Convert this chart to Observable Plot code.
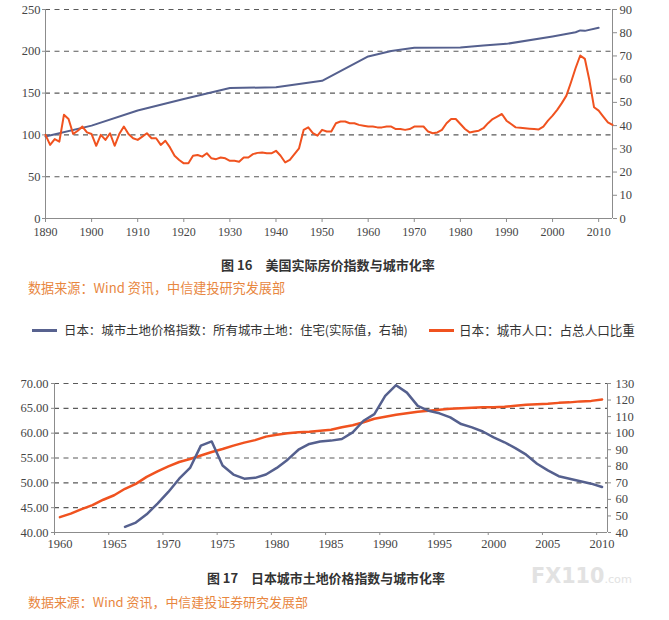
<!DOCTYPE html>
<html><head><meta charset="utf-8">
<script src="https://cdn.jsdelivr.net/npm/d3@7"></script>
<script src="https://cdn.jsdelivr.net/npm/@observablehq/plot@0.6"></script>
<style>
body{margin:0;background:#fff;}
#wrap{position:relative;width:669px;height:620px;overflow:hidden;font-family:"Noto Sans CJK SC","Noto Sans",sans-serif;}
.abs{position:absolute;white-space:nowrap;}
.cap{font-size:12px;font-weight:bold;color:#333;line-height:1.2;}
.src{font-size:12px;color:#E8873F;line-height:1.2;}
.leg{font-size:12px;color:#333;line-height:1.2;}
.mk{position:absolute;height:3px;width:25px;}
.wm{font-family:"DejaVu Sans",sans-serif;font-weight:bold;color:#e2e2e2;font-size:24px;line-height:1;}
</style></head><body>
<div id="wrap">
  <div id="c1" class="abs" style="left:0;top:0"></div>
  <div id="cap1" class="abs cap">图 16　美国实际房价指数与城市化率</div>
  <div id="src1" class="abs src">数据来源：Wind 资讯，中信建投研究发展部</div>
  <div class="mk" style="left:32px;top:329px;background:#58628F"></div>
  <div id="leg1" class="abs leg">日本：城市土地价格指数：所有城市土地：住宅(实际值，右轴)</div>
  <div class="mk" style="left:429px;top:329px;background:#F0521F"></div>
  <div id="leg2" class="abs leg">日本：城市人口：占总人口比重</div>
  <div id="c2" class="abs" style="left:0;top:360px"></div>
  <div id="wm" class="abs wm">FX110<span style="font-size:13px;font-weight:normal">.com</span></div>
  <div id="cap2" class="abs cap">图 17　日本城市土地价格指数与城市化率</div>
  <div id="src2" class="abs src">数据来源：Wind 资讯，中信建投证券研究发展部</div>
</div>
<script>
// ---------- Chart 1: US real house price index (left) & urbanization rate (right) ----------
const usPriceStart = 1890;
const usPriceIndex = [
  100, 88, 95, 92, 124, 119, 101, 105, 110, 103,
  101, 87, 100, 94, 102, 87, 101, 110, 101, 96,
  94, 98, 102, 96, 96, 88, 93, 85, 75, 70,
  66, 66, 75, 76, 74, 78, 72, 71, 73, 72,
  69, 69, 68, 73, 73, 77, 78.5, 79, 78, 78,
  81, 75, 67, 70, 77, 84, 106, 109, 102, 99,
  106, 104, 104, 114, 116, 116, 114, 114, 112, 111,
  110, 110, 109, 109, 110, 110, 107, 107, 106, 107,
  110, 110, 110, 104, 102, 103, 106, 114, 119, 119,
  113, 107, 103, 104, 105, 108, 114, 119, 122, 125,
  117, 113, 109, 108.5, 108, 107.5, 107, 106.5, 110, 117,
  123, 130, 138, 147, 163, 180, 195, 191, 165, 133,
  129, 122, 115, 112
];
const usUrbanYears = [1890, 1900, 1910, 1920, 1930, 1940, 1950, 1960, 1965, 1970, 1980, 1985, 1990, 2000, 2005, 2006, 2007, 2010];
const usUrbanRate  = [35.3, 40.0, 46.5, 51.5, 56.2, 56.5, 59.3, 69.8, 72.1, 73.5, 73.6, 74.5, 75.2, 78.4, 80.2, 81.0, 80.8, 82.1];
const chart1LeftTicks  = [0, 50, 100, 150, 200, 250];
const chart1RightTicks = [0, 10, 20, 30, 40, 50, 60, 70, 80, 90];
const chart1XTicks     = [1890, 1900, 1910, 1920, 1930, 1940, 1950, 1960, 1970, 1980, 1990, 2000, 2010];

// ---------- Chart 2: Japan urban population share (left) & land price index (right) ----------
const jpUrbanStart = 1960;
const jpUrbanRate = [
  43.1, 43.8, 44.7, 45.5, 46.6, 47.5, 48.8, 49.8, 51.2, 52.3,
  53.3, 54.2, 54.8, 55.5, 56.2, 56.8, 57.5, 58.1, 58.6, 59.3,
  59.7, 60.0, 60.2, 60.3, 60.5, 60.7, 61.2, 61.6, 62.2, 62.9,
  63.3, 63.7, 64.0, 64.3, 64.5, 64.7, 64.9, 65.0, 65.1, 65.2,
  65.2, 65.3, 65.5, 65.7, 65.8, 65.9, 66.1, 66.2, 66.4, 66.5,
  66.8
];
const jpLandStart = 1966;
const jpLandIndex = [
  43.4, 46, 51, 57.5,
  64.5, 72.5, 79, 92.5, 95, 80.5, 75, 72.5, 73, 75,
  79, 84, 90, 93.5, 95, 95.5, 96.5, 100.5, 107.5, 111.5,
  122.5, 129, 124.5, 116.5, 113.5, 112, 109.5, 105.5, 103.5, 101,
  97.5, 94.5, 91, 87, 81.5, 77.5, 74, 72.5, 71, 69.5,
  67.5
];
const chart2LeftTicks  = [40, 45, 50, 55, 60, 65, 70];
const chart2RightTicks = [40, 50, 60, 70, 80, 90, 100, 110, 120, 130];
const chart2XTicks     = [1960, 1965, 1970, 1975, 1980, 1985, 1990, 1995, 2000, 2005, 2010];

const RED = "#F0521F", BLUE = "#55608E";
const AXIS = "#8c8c8c", GRID = "#5a5a5a", TXT = "#454545";
const tickFont = {fontFamily: "'Liberation Serif', 'DejaVu Serif', serif", fontSize: "12.5px", color: TXT, background: "transparent", overflow: "visible"};

// Chart 1
const usPrice = usPriceIndex.map((v, i) => ({x: usPriceStart + i, v}));
const usUrban = usUrbanYears.map((x, i) => ({x, v: usUrbanRate[i]}));
const r1 = v => v * 250 / 90; // right axis (0–90) onto left scale (0–250)
const x1 = [1890, 2013];

const p1 = Plot.plot({
  width: 669, height: 245,
  marginLeft: 45, marginRight: 57, marginTop: 9, marginBottom: 27,
  style: tickFont,
  x: {domain: x1},
  y: {domain: [0, 250]},
  marks: [
    Plot.ruleY(chart1LeftTicks.filter(d => d > 0), {stroke: GRID, strokeDasharray: "5,4.5", strokeWidth: 1.1}),
    Plot.ruleX([x1[0]], {stroke: AXIS}),
    Plot.ruleX([x1[1]], {stroke: AXIS}),
    Plot.ruleY([0], {stroke: AXIS}),
    Plot.axisY(chart1LeftTicks, {anchor: "left", tickSize: 3, tickPadding: 2, label: null, stroke: AXIS, fill: TXT}),
    Plot.axisY(chart1RightTicks.map(r1), {anchor: "right", tickSize: 4, tickPadding: 3, label: null, stroke: AXIS, fill: TXT, tickFormat: d => String(Math.round(d * 90 / 250))}),
    Plot.axisX(chart1XTicks, {tickSize: 4, tickPadding: 5, fontSize: 12, label: null, stroke: AXIS, fill: TXT, tickFormat: d => String(d)}),
    Plot.line(usUrban, {x: "x", y: d => r1(d.v), stroke: BLUE, strokeWidth: 2}),
    Plot.line(usPrice, {x: "x", y: "v", stroke: RED, strokeWidth: 2})
  ]
});
document.getElementById("c1").append(p1);

// Chart 2
const jpUrban = jpUrbanRate.map((v, i) => ({x: jpUrbanStart + i, v}));
const jpLand = jpLandIndex.map((v, i) => ({x: jpLandStart + i, v}));
const r2 = v => 40 + (v - 40) / 3; // right axis (40–130) onto left scale (40–70)
const x2 = [chart2XTicks[0] - 0.5, chart2XTicks[chart2XTicks.length - 1] + 0.5];
const x2Bounds = chart2XTicks.map(d => d - 0.5);

const p2 = Plot.plot({
  width: 669, height: 200,
  marginLeft: 54, marginRight: 62, marginTop: 23, marginBottom: 28,
  style: tickFont,
  x: {domain: x2},
  y: {domain: [40, 70]},
  marks: [
    Plot.ruleY(chart2LeftTicks.filter(d => d > 40), {stroke: GRID, strokeDasharray: "5,4.5", strokeWidth: 1.1}),
    Plot.ruleX([x2[0]], {stroke: AXIS}),
    Plot.ruleX([x2[1]], {stroke: AXIS}),
    Plot.ruleY([40], {stroke: AXIS}),
    Plot.axisY(chart2LeftTicks, {anchor: "left", tickSize: 3, tickPadding: 3, label: null, stroke: AXIS, fill: TXT, tickFormat: d => d.toFixed(2)}),
    Plot.axisY(chart2RightTicks.map(r2), {anchor: "right", tickSize: 3, tickPadding: 5, label: null, stroke: AXIS, fill: TXT, tickFormat: d => String(Math.round(40 + (d - 40) * 3))}),
    Plot.axisX(x2Bounds, {tickSize: 3, label: null, stroke: AXIS, tickFormat: () => ""}),
    Plot.axisX(chart2XTicks, {tickSize: 0, tickPadding: 7, label: null, fill: TXT, tickFormat: d => String(d)}),
    Plot.line(jpUrban, {x: "x", y: "v", stroke: RED, strokeWidth: 2.5}),
    Plot.line(jpLand, {x: "x", y: d => r2(d.v), stroke: BLUE, strokeWidth: 2.5})
  ]
});
document.getElementById("c2").append(p2);

// Fit the page texts to the reference's footprint: [id, left, right, vertical centre]
const textBoxes = [
  ["cap1", 221, 435, 265],
  ["src1", 28, 285, 288],
  ["leg1", 64, 408, 330],
  ["leg2", 459, 635, 330],
  ["cap2", 207, 445, 577.5],
  ["src2", 28, 308, 602],
  ["wm", 531, 632, 576]
];
for (const [id, l, r, cy] of textBoxes) {
  const el = document.getElementById(id);
  const base = parseFloat(getComputedStyle(el).fontSize);
  const w = el.getBoundingClientRect().width;
  const k = w > 0 ? (r - l) / w : 1;
  const spans = [...el.querySelectorAll("span")].map(s => [s, parseFloat(getComputedStyle(s).fontSize)]);
  el.style.fontSize = (base * k).toFixed(2) + "px";
  spans.forEach(([s, sb]) => { s.style.fontSize = (sb * k).toFixed(2) + "px"; });
  const h = el.getBoundingClientRect().height;
  el.style.left = l + "px";
  el.style.top = (cy - h / 2) + "px";
}
</script>
</body></html>
